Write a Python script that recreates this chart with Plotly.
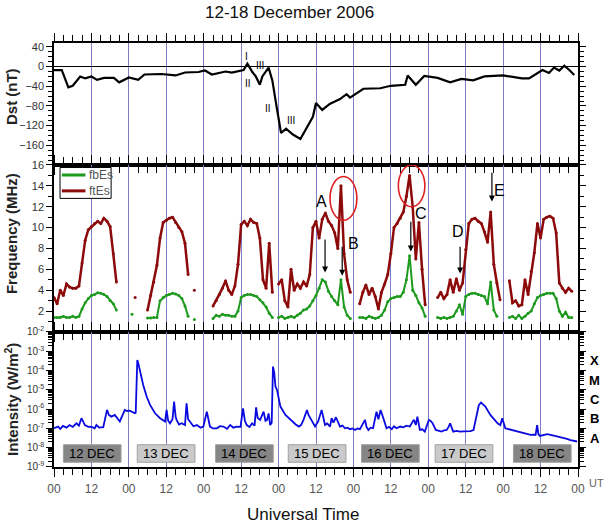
import plotly.graph_objects as go
from plotly.subplots import make_subplots

# ---------------- data ----------------
dst_hours = [0, 2.5, 4.6, 6, 8.4, 10, 12, 13.8, 16, 19.2, 20.9, 24, 27, 29, 34.4, 39, 42, 46.3, 48.4,
             50.6, 55, 57, 60.8, 62, 63.6, 64.7, 66, 66.8, 68.8, 70, 71.4, 72.8, 74.4, 76.6, 79, 81,
             83, 84, 86, 88.4, 91.7, 93.8, 94.9, 99.2, 104.6, 108, 112.6, 113.4, 116, 118.7, 123,
             127, 130.6, 134.4, 138, 144, 150, 152.3, 156.6, 158.7, 160.3, 162, 163.6, 165.2, 166.8]
dst_values = [-7, -7, -42, -39, -20, -24, -20, -27, -23, -23, -32, -22, -27, -16, -15, -18, -12, -11, -8,
              -16, -10, -12, -7, 6, -11, -20, -37, -20, -2, -28, -83, -135, -126, -138, -147, -123,
              -102, -74, -88, -76, -66, -56, -63, -45, -44, -39, -37, -18, -37, -19, -23,
              -32, -25, -28, -20, -18, -24, -24, -7, -13, -2, -8, 2, -7, -17]

es_hours = list(range(168))
ftEs = [3.3, 2.7, 4.0, 3.5, 4.6, 4.3, 4.2, 4.2, 4.4, 6.6, 8.8, 9.8, 10.1, 10.4, 10.6, 10.4, 10.9, 10.6, 10.1, 7.5,
        4.8, None, None, None, None, None, 3.3, None, None, None,
        2.1, 3.5, 4.8, 6.4, 9.0, 10.5, 10.7, 10.9, 11.0, 10.5, 10.0, 9.6, 8.5, 5.5, None, 4.0, None, None, None, None,
        None, 2.5, 3.0, 3.6, 4.2, 4.9, 4.0, 3.6, 4.4, 6.5, 10.3, 10.6, 10.2, 10.8, 10.5, 10.4, 9.0, 5.0, 4.2, 8.5,
        3.8, None, 4.6, 5.0, 3.0, 2.4, 6.0, 4.0, 4.6, 4.2, 4.8, 4.4, 5.5, 10.0, 10.6, 9.0, 10.8, 11.4, 10.6, 10.2,
        9.5, 8.0, 14.0, 7.5, 5.0, 3.8, None, None, 2.7, 3.8, 4.5, 3.6, 4.2, 3.4, 2.2, 3.8, 4.6, 5.5, 7.5, 10.0,
        10.4, 10.9, 11.5, 13.0, 15.0, 12.0, 7.0, 10.5, 6.0, 2.6, None, None, None, 3.3, 3.8, 3.2, 3.6, 5.0, 3.8, 5.1,
        4.0, 4.7, 7.9, 10.4, 10.8, 10.9, 10.6, 10.4, 9.6, 8.6, 11.5, 6.5, 4.7, 3.1, None, None, 4.9, 2.8, 3.0, 2.5,
        2.6, 5.0, 3.6, 5.8, 7.6, 10.4, 9.0, 10.8, 11.0, 11.1, 10.9, 9.5, 4.7, 4.2, 3.8, 4.2, 3.9, None]
fbEs = [1.4, 1.4, 1.4, 1.5, 1.4, 1.4, 1.5, 1.4, 1.5, 2.2, 2.8, 3.2, 3.5, 3.6, 3.75, 3.7, 3.6, 3.4, 3.0, 2.7,
        2.1, None, None, None, None, 1.7, None, None, None, None,
        1.35, 1.35, 1.4, 1.4, 3.0, 3.3, 3.5, 3.6, 3.7, 3.65, 3.5, 3.2, 2.5, 1.5, None, 1.2, None, None, None, None,
        None, 1.3, 1.6, 1.5, 1.7, 1.6, 1.6, 1.5, 1.5, 2.0, 3.3, 3.5, 3.6, 3.6, 3.5, 3.4, 3.1, 2.8, 2.4, 1.8,
        1.4, None, 1.4, 1.5, 1.3, 1.4, 1.5, 1.4, 1.6, 1.8, 2.1, 2.2, 2.5, 3.0, 3.5, 4.2, 5.0, 4.8, 3.9, 3.4,
        3.0, 2.6, 5.0, 2.4, 1.6, 1.3, None, None, 1.4, 1.4, 1.3, 1.5, 1.4, 1.3, 1.4, 1.6, 2.1, 2.9, 3.2, 3.3,
        3.4, 3.4, 3.8, 5.0, 7.3, 4.0, 3.5, 2.8, 2.3, 1.5, None, None, None, 1.4, 1.3, 1.4, 1.3, 1.4, 1.5, 2.0,
        2.6, 1.7, 3.4, 3.6, 3.7, 3.7, 3.6, 3.5, 3.4, 2.7, 4.8, 2.1, 1.5, None, None, None, 1.4, 1.5, 1.3, 1.6,
        1.3, 1.5, 1.8, 2.0, 2.7, 3.3, 3.5, 3.6, 3.7, 3.7, 3.7, 3.2, 2.0, 1.5, 1.9, 1.4, 1.4, None]

xray_hours = [0, 1.3, 2, 2.9, 4, 5, 6, 7.2, 8, 8.8, 9.9, 11, 12, 13, 13.6, 14.5, 15.8, 17, 17.6, 18.4, 19.5,
              20.3, 21.1, 22.7, 23.5, 24.3, 25.9, 26.2, 26.7, 27.0, 27.5, 28.6, 29.7, 30.8, 32.4, 34, 35.6,
              36.1, 36.6, 37.2, 38, 38.5, 39.0, 39.3, 40.1, 40.9, 42, 42.5, 43, 43.6, 44.7, 45.8, 47, 47.9,
              49, 50, 51, 52.2, 53.2, 54.3, 55.5, 56.5, 57.5, 58.6, 59.8, 60.6, 61.2, 61.8, 62.7, 63.5, 64.3,
              64.8, 65.3, 66.1, 66.7, 67.2, 67.8, 68.3, 68.8, 69.3, 69.8, 70.2, 70.6, 71.0, 71.5, 72.6, 74.2,
              76.3, 77.5, 78.5, 79.2, 80, 81.1, 81.6, 82.2, 83, 83.7, 84.7, 85.8, 86.3, 86.9, 87.6, 88.5, 89,
              89.6, 90.4, 91, 91.7, 92.5, 93.3, 94.1, 94.9, 95.7, 96.5, 97.3, 98.1, 99.7, 100.2, 100.8, 101.5,
              102.3, 103.4, 104, 104.7, 105.6, 106.6, 107.4, 108.3, 109.0, 109.8, 111, 112, 113, 114.1, 114.8,
              115.4, 116, 116.5, 117.3, 118.1, 118.9, 119.6, 120.2, 120.8, 121.4, 122.4, 123.3, 124.3, 125.1,
              125.9, 126.5, 127, 127.5, 128, 129, 130.2, 131.3, 132.4, 133.5, 134.5, 135.6, 136.2, 136.9,
              137.5, 138.3, 139.9, 141.5, 142.3, 143.1, 143.7, 144.7, 145.5, 146.3, 147.5, 148.5, 149.5,
              150.6, 151.7, 152.8, 153.6, 154.4, 154.9, 155.3, 155.8, 157, 158.1, 159.2, 160.3, 161.3,
              162.4, 163.5, 164.5, 165.6, 166.6, 167.7]
xray_flux = [1.02e-7, 1.25e-7, 0.95e-7, 1.35e-7, 1.1e-7, 1.5e-7, 1.2e-7, 1.85e-7, 1.4e-7, 3.4e-7, 1.5e-7,
             1.2e-7, 1.25e-7, 1.0e-7, 1.5e-7, 1.1e-7, 1.15e-7, 9.1e-7, 5e-7, 4.1e-7, 5.0e-7, 3.2e-7, 2.3e-7,
             9.1e-7, 8e-7, 8.3e-7, 6.1e-7, 6.5e-7, 3.5e-4, 2.5e-4, 1.07e-4, 1.8e-5, 4.5e-6, 1.66e-6, 6.1e-7,
             3.4e-7, 2.3e-7, 9.1e-7, 2.5e-7, 1.85e-7, 3e-7, 2.5e-6, 4e-7, 2.8e-7, 1.6e-7, 1.85e-7, 1.5e-7,
             2.0e-6, 3e-7, 2.3e-7, 1.3e-7, 1.5e-7, 1.1e-7, 1.25e-7, 7.4e-7, 1.25e-7, 1.0e-7, 1.02e-7,
             1.3e-7, 1.25e-7, 0.95e-7, 1.5e-7, 1.1e-7, 1.25e-7, 1.2e-7, 1.1e-6, 2.5e-7, 1.5e-7, 1.2e-7,
             1.85e-7, 1.4e-7, 1.25e-6, 3.5e-7, 2.8e-7, 5e-7, 7.4e-7, 2.5e-7, 2.8e-7, 6e-7, 1.5e-7, 2e-7,
             1.6e-4, 8e-5, 1.5e-5, 9.9e-6, 1.36e-6, 5.0e-7, 2.3e-7, 1.6e-7, 1.25e-7, 1.5e-7, 2.8e-7, 9.1e-7,
             5e-7, 3.4e-7, 2.2e-7, 1.25e-7, 2.3e-7, 9.1e-7, 4e-7, 1.5e-7, 1.8e-7, 1.25e-7, 3.4e-7, 2e-7,
             3.8e-7, 2.2e-7, 1.25e-7, 1.4e-7, 1.02e-7, 1.1e-7, 9.1e-8, 1.0e-7, 8.3e-8, 1.0e-7, 9.1e-8,
             2.8e-7, 1.2e-7, 8.3e-8, 1.1e-7, 1.02e-7, 7.4e-7, 3e-7, 9.1e-7, 3.4e-7, 1.02e-7, 1.2e-7, 9.1e-8,
             1.3e-7, 1.02e-7, 1.25e-7, 1.15e-7, 1.4e-7, 1.25e-7, 2e-7, 2.8e-7, 1.5e-7, 4.1e-7, 8.3e-8, 9e-8,
             6.8e-8, 1.5e-7, 2.8e-7, 2.4e-7, 1.85e-7, 8.3e-8, 7.5e-8, 6.8e-8, 8e-8, 8.3e-8, 1.2e-7, 1.85e-7,
             1.1e-7, 6.8e-8, 7.5e-8, 6.8e-8, 7e-8, 6.8e-8, 7.2e-8, 8.3e-8, 7.4e-7, 1.6e-6, 2.2e-6, 1.8e-6,
             1.36e-6, 5.0e-7, 2.3e-7, 1.8e-7, 1.5e-7, 3.4e-7, 1.02e-7, 9.5e-8, 8.3e-8, 7.5e-8, 6.8e-8,
             6.2e-8, 5.6e-8, 5.0e-8, 4.6e-8, 4.8e-8, 4.6e-8, 1.5e-7, 5e-8, 4.1e-8, 4.6e-8, 5e-8, 4.6e-8,
             4.2e-8, 3.8e-8, 3.6e-8, 3.1e-8, 2.9e-8, 2.5e-8, 2.3e-8, 2.1e-8]

x_tick_hours = list(range(0, 169, 12))
x_tick_labels = ["00" if h % 24 == 0 else "12" for h in x_tick_hours]
dst_ticks = [40, 0, -40, -80, -120, -160]
freq_ticks = [2, 4, 6, 8, 10, 12, 14, 16]
int_exponents = [-2, -3, -4, -5, -6, -7, -8, -9]
flare_classes = ["X", "M", "C", "B", "A"]
flare_class_logs = [-3.5, -4.5, -5.5, -6.5, -7.5]
day_labels = ["12 DEC", "13 DEC", "14 DEC", "15 DEC", "16 DEC", "17 DEC", "18 DEC"]
day_box_start = [3.0, 26.7, 51.8, 75.1, 98.6, 122.2, 147.3]
day_box_width = 18.5
roman_labels = ["I", "II", "III", "II", "III"]
roman_x = [61.8, 62.2, 66.0, 68.6, 75.9]
roman_y = [20, -35, 3, -86, -110]
event_labels = ["A", "B", "C", "D", "E"]
event_x = [85.8, 96.0, 117.6, 129.6, 142.7]
event_y = [12.5, 8.5, 11.4, 9.6, 13.6]
arrow_x = [86.9, 92.4, 114.4, 130.2, 140.4]
arrow_from = [9.0, 8.3, 10.7, 8.3, 15.4]
arrow_to = [5.7, 5.4, 7.7, 5.6, 12.5]
legend_names = ["fbEs", "ftEs"]

FONT = "Liberation Sans, Arial, sans-serif"
GREEN = "#1e9a1e"
DARKRED = "#8c0a0a"

# ---------------- figure ----------------
fig = make_subplots(rows=3, cols=1, shared_xaxes=True, vertical_spacing=0)

fig.add_trace(go.Scatter(x=dst_hours, y=dst_values, mode="lines", line=dict(color="black", width=2.2),
                         showlegend=False), row=1, col=1)
fig.add_trace(go.Scatter(x=es_hours, y=fbEs, mode="lines+markers", name="fbEs", showlegend=False,
                         line=dict(color=GREEN, width=2), marker=dict(size=3, color=GREEN)),
              row=2, col=1)
fig.add_trace(go.Scatter(x=es_hours, y=ftEs, mode="lines+markers", name="ftEs", showlegend=False,
                         line=dict(color=DARKRED, width=2.5), marker=dict(size=3, color=DARKRED)),
              row=2, col=1)
fig.add_trace(go.Scatter(x=xray_hours, y=xray_flux, mode="lines", line=dict(color="#0a0ae0", width=1.8),
                         showlegend=False), row=3, col=1)

tickfont = dict(family=FONT, size=11, color="#333")
fig.update_xaxes(range=[0, 168], tickvals=x_tick_hours, ticktext=x_tick_labels, ticks="outside", ticklen=8,
                 tickcolor="black", showline=True, linecolor="black", linewidth=1.5, mirror="ticks",
                 showgrid=True, gridcolor="#7f7fc8", gridwidth=1, zeroline=False,
                 minor=dict(dtick=3, tick0=0, ticks="outside", ticklen=6, tickcolor="black", showgrid=False))
fig.update_xaxes(showticklabels=True, tickfont=dict(family=FONT, size=12, color="#555"),
                 ticklabelstandoff=2, row=3, col=1)

fig.update_yaxes(range=[-200, 48], tickvals=dst_ticks, ticks="outside", ticklen=6, tickcolor="black",
                 showline=True, linecolor="black", linewidth=1.5, mirror="ticks", showgrid=False,
                 zeroline=True, zerolinecolor="black", zerolinewidth=1.2, tickfont=tickfont,
                 minor=dict(dtick=10, ticks="outside", ticklen=4, tickcolor="black"),
                 domain=[0.7123, 1.0], row=1, col=1)
fig.update_yaxes(range=[0, 16], tickvals=freq_ticks, ticks="outside", ticklen=6, tickcolor="black",
                 showline=True, linecolor="black", linewidth=1.5, mirror="ticks", showgrid=False,
                 zeroline=False, tickfont=tickfont,
                 minor=dict(dtick=1, ticks="outside", ticklen=4, tickcolor="black"),
                 domain=[0.3184, 0.7123], row=2, col=1)
minor_log = [k * 10.0 ** e for e in range(-9, -2) for k in range(2, 10)]
fig.update_yaxes(type="log", range=[-9, -2], tickvals=[10.0 ** e for e in int_exponents],
                 ticktext=["10<sup>%d</sup>" % e for e in int_exponents],
                 ticks="outside", ticklen=6, tickcolor="black",
                 showline=True, linecolor="black", linewidth=1.5, mirror="ticks", showgrid=False,
                 zeroline=False, tickfont=dict(family=FONT, size=10, color="#333"),
                 minor=dict(tickvals=minor_log, ticks="outside", ticklen=4, tickcolor="black"),
                 domain=[0.0, 0.3184], row=3, col=1)

shapes = []
annotations = []
for i, lab in enumerate(day_labels):
    dark = (i % 2 == 0)
    shapes.append(dict(type="rect", xref="x3", yref="y3 domain", x0=day_box_start[i],
                       x1=day_box_start[i] + day_box_width, y0=0.035, y1=0.165,
                       fillcolor="#858585" if dark else "#cacaca", line=dict(color="#a0a0a0", width=1),
                       layer="above"))
    annotations.append(dict(xref="x3", yref="y3 domain", x=day_box_start[i] + day_box_width / 2, y=0.1,
                            xanchor="center", yanchor="middle",
                            text=lab, showarrow=False, font=dict(family=FONT, size=13, color="black")))
shapes.append(dict(type="circle", xref="x2", yref="y2", x0=88.5, x1=97.1, y0=10.7, y1=14.9,
                   line=dict(color="#e02020", width=1.6)))
shapes.append(dict(type="circle", xref="x2", yref="y2", x0=110.4, x1=118.9, y0=12.0, y1=16.0,
                   line=dict(color="#e02020", width=1.6)))

# hand-built legend box (frequency panel, top-left)
shapes.append(dict(type="rect", xref="x2 domain", yref="y2 domain", x0=0.0115, x1=0.109, y0=0.80, y1=0.985,
                   fillcolor="white", line=dict(color="black", width=1), layer="above"))
for k, (nm, col) in enumerate(zip(legend_names, [GREEN, DARKRED])):
    yy = 0.94 - k * 0.095
    shapes.append(dict(type="line", xref="x2 domain", yref="y2 domain", x0=0.015, x1=0.06, y0=yy, y1=yy,
                       line=dict(color=col, width=3), layer="above"))
    annotations.append(dict(xref="x2 domain", yref="y2 domain", x=0.063, y=yy, text=nm, showarrow=False,
                            xanchor="left", yanchor="middle", font=dict(family=FONT, size=12, color="#555")))

for lab, x, y in zip(roman_labels, roman_x, roman_y):
    annotations.append(dict(xref="x", yref="y", x=x, y=y, text=lab, showarrow=False,
                            xanchor="center", yanchor="middle",
                            font=dict(family=FONT, size=10, color="black")))
for lab, x, y in zip(event_labels, event_x, event_y):
    annotations.append(dict(xref="x2", yref="y2", x=x, y=y, text=lab, showarrow=False,
                            xanchor="center", yanchor="middle",
                            font=dict(family=FONT, size=16, color="black")))
for x, y0, y1 in zip(arrow_x, arrow_from, arrow_to):
    annotations.append(dict(xref="x2", yref="y2", x=x, y=y1, ax=x, ay=y0, axref="x2", ayref="y2",
                            text="", showarrow=True, arrowhead=2, arrowsize=1, arrowwidth=1.2,
                            arrowcolor="black"))
for lab, lv in zip(flare_classes, flare_class_logs):
    annotations.append(dict(xref="paper", yref="y3", x=1.0324, y=lv, text="<b>%s</b>" % lab,
                            xanchor="center", yanchor="middle",
                            showarrow=False, font=dict(family=FONT, size=13, color="black")))

def paper_note(text, x, y, size, color, angle=0, bold=False):
    return dict(xref="paper", yref="paper", x=x, y=y, text=("<b>%s</b>" % text) if bold else text,
                textangle=angle, xanchor="center", yanchor="middle", showarrow=False,
                font=dict(family=FONT, size=size, color=color))

annotations += [
    paper_note("Dst (nT)", -0.082, 0.8726, 15, "#222", -90, True),
    paper_note("Frequency (MHz)", -0.082, 0.5495, 15, "#222", -90, True),
    paper_note("Intensity (W/m<sup>2</sup>)", -0.082, 0.158, 15, "#222", -90, True),
    paper_note("12-18 December 2006", 0.449, 1.073, 17, "#111"),
    paper_note("Universal Time", 0.475, -0.112, 17, "#111"),
    paper_note("UT", 1.036, -0.0377, 11, "#666"),
]

fig.update_layout(
    width=607, height=525,
    margin=dict(l=54, r=29, t=43, b=58),
    paper_bgcolor="white", plot_bgcolor="white",
    font=dict(family=FONT),
    shapes=shapes, annotations=annotations,
    showlegend=False,
)

fig.write_html("out.html", config={"displayModeBar": False},
               post_script="document.body.style.margin='0px';")
